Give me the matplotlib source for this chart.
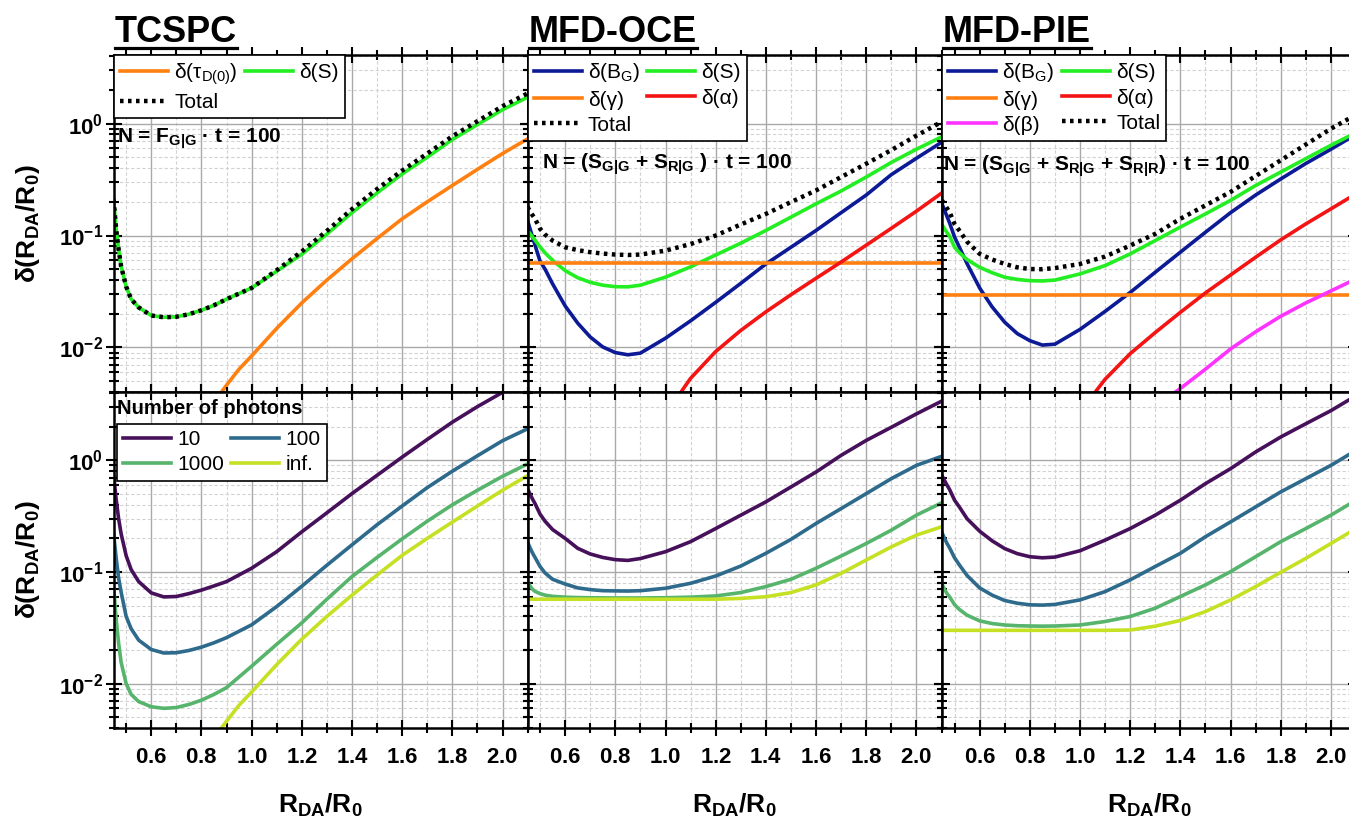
import matplotlib
matplotlib.use("Agg")
import matplotlib.pyplot as plt
from matplotlib.ticker import MultipleLocator, LogLocator, FuncFormatter, NullFormatter
from matplotlib.lines import Line2D
import numpy as np

plt.rcParams['font.family'] = ['Liberation Sans', 'DejaVu Sans']
plt.rcParams['mathtext.fontset'] = 'custom'
plt.rcParams['mathtext.rm'] = 'Liberation Sans'
plt.rcParams['mathtext.bf'] = 'Liberation Sans:bold'
plt.rcParams['mathtext.it'] = 'Liberation Sans:italic'

# ---------------- data ----------------
r = [0.45, 0.46, 0.47, 0.48, 0.50, 0.52, 0.55, 0.60, 0.65, 0.70, 0.75, 0.80, 0.85,
     0.90, 1.00, 1.10, 1.20, 1.30, 1.40, 1.50, 1.60, 1.70, 1.80, 1.90, 2.00, 2.10]

# TCSPC, N = 100
tcspc_S = [0.21, 0.115, 0.075, 0.053, 0.035, 0.027, 0.0228, 0.0193, 0.0186, 0.0188, 0.0198, 0.0215, 0.0238,
           0.027, 0.034, 0.048, 0.068, 0.103, 0.16, 0.24, 0.355, 0.50, 0.72, 0.98, 1.33, 1.72]
tcspc_total = [0.21, 0.115, 0.075, 0.053, 0.035, 0.027, 0.0228, 0.0193, 0.0186, 0.0188, 0.0198, 0.0215, 0.0238,
               0.027, 0.034, 0.049, 0.072, 0.11, 0.172, 0.26, 0.38, 0.54, 0.77, 1.05, 1.43, 1.86]
r_tau = [0.88, 0.90, 0.95, 1.00, 1.10, 1.20, 1.30, 1.40, 1.50, 1.60, 1.70, 1.80, 1.90, 2.00, 2.10]
tcspc_tau = [0.0040, 0.0046, 0.0064, 0.0084, 0.0148, 0.025, 0.040, 0.062, 0.094, 0.141, 0.20, 0.28, 0.39, 0.54, 0.73]

# TCSPC, number of photons
tcspc_n10 = [0.75, 0.45, 0.30, 0.22, 0.14, 0.105, 0.082, 0.065, 0.0598, 0.0603, 0.064, 0.0688, 0.075,
             0.082, 0.108, 0.152, 0.229, 0.339, 0.504, 0.735, 1.07, 1.54, 2.2, 3.03, 4.07, 5.4]
tcspc_n100 = [0.22, 0.135, 0.088, 0.066, 0.040, 0.031, 0.0245, 0.0202, 0.0188, 0.0189, 0.0198, 0.0212, 0.0232,
              0.0258, 0.0336, 0.049, 0.0745, 0.115, 0.175, 0.265, 0.39, 0.57, 0.80, 1.10, 1.50, 1.92]
tcspc_n1000 = [0.075, 0.038, 0.023, 0.0155, 0.0100, 0.0080, 0.0069, 0.0062, 0.0060, 0.0061, 0.0065, 0.0071, 0.0080,
               0.0092, 0.0143, 0.0225, 0.035, 0.057, 0.091, 0.135, 0.198, 0.285, 0.40, 0.54, 0.72, 0.93]
tcspc_ninf = tcspc_tau

# MFD-OCE, N = 100
oce_Bg = [0.136, 0.115, 0.097, 0.082, 0.059, 0.050, 0.037, 0.0235, 0.0165, 0.0124, 0.0101, 0.0090, 0.0086,
          0.0089, 0.0121, 0.0173, 0.0253, 0.0374, 0.0557, 0.0786, 0.111, 0.16, 0.23, 0.35, 0.49, 0.68]
oce_S = [0.111, 0.104, 0.097, 0.091, 0.079, 0.070, 0.060, 0.0486, 0.042, 0.0382, 0.036, 0.0349, 0.0348,
         0.036, 0.0425, 0.0525, 0.067, 0.0854, 0.111, 0.146, 0.192, 0.25, 0.333, 0.45, 0.59, 0.76]
oce_total = [0.18, 0.165, 0.152, 0.141, 0.115, 0.102, 0.090, 0.0786, 0.074, 0.071, 0.069, 0.0676, 0.067,
             0.0676, 0.0733, 0.0839, 0.100, 0.1255, 0.156, 0.199, 0.253, 0.333, 0.438, 0.58, 0.78, 1.035]
r_flat = [0.45, 2.10]
oce_gamma = [0.057, 0.057]
r_oce_alpha = [1.062, 1.10, 1.20, 1.30, 1.40, 1.50, 1.60, 1.70, 1.80, 1.90, 2.00, 2.10]
oce_alpha = [0.004, 0.0053, 0.0092, 0.0142, 0.0208, 0.0296, 0.0415, 0.058, 0.082, 0.116, 0.165, 0.239]

# MFD-OCE, number of photons
oce_n10 = [0.557, 0.50, 0.45, 0.41, 0.33, 0.285, 0.24, 0.20, 0.163, 0.145, 0.135, 0.129, 0.127,
           0.132, 0.152, 0.187, 0.245, 0.323, 0.425, 0.578, 0.787, 1.11, 1.51, 1.98, 2.61, 3.39]
oce_n100 = [0.186, 0.165, 0.148, 0.135, 0.112, 0.098, 0.086, 0.078, 0.072, 0.0695, 0.068, 0.0677, 0.0675,
            0.068, 0.0715, 0.0792, 0.092, 0.113, 0.147, 0.196, 0.272, 0.37, 0.504, 0.686, 0.902, 1.086]
oce_n1000 = [0.0814, 0.075, 0.070, 0.067, 0.064, 0.062, 0.0605, 0.0595, 0.059, 0.0588, 0.0586, 0.0585, 0.0585,
             0.0585, 0.0588, 0.0595, 0.061, 0.0654, 0.074, 0.086, 0.108, 0.139, 0.18, 0.237, 0.323, 0.416]
oce_ninf = [0.057, 0.057, 0.057, 0.057, 0.057, 0.057, 0.057, 0.057, 0.057, 0.057, 0.057, 0.057, 0.057,
            0.057, 0.057, 0.057, 0.057, 0.058, 0.060, 0.0654, 0.0766, 0.0973, 0.128, 0.168, 0.214, 0.254]

# MFD-PIE, N = 100
pie_Bg = [0.192, 0.168, 0.148, 0.13, 0.097, 0.078, 0.056, 0.034, 0.023, 0.0168, 0.0133, 0.0115, 0.0105,
          0.0107, 0.0145, 0.021, 0.031, 0.047, 0.071, 0.107, 0.16, 0.23, 0.32, 0.44, 0.59, 0.80]
pie_S = [0.125, 0.115, 0.106, 0.099, 0.0786, 0.070, 0.061, 0.052, 0.0465, 0.0424, 0.0405, 0.0395, 0.0393,
         0.040, 0.0454, 0.0539, 0.0685, 0.0902, 0.119, 0.156, 0.206, 0.28, 0.369, 0.486, 0.64, 0.83]
pie_total = [0.206, 0.19, 0.175, 0.162, 0.127, 0.11, 0.088, 0.0686, 0.061, 0.0557, 0.052, 0.0502, 0.050,
             0.0512, 0.0557, 0.0649, 0.0814, 0.1035, 0.141, 0.186, 0.245, 0.34, 0.47, 0.65, 0.90, 1.2]
pie_gamma = [0.0296, 0.0296]
r_pie_alpha = [1.061, 1.10, 1.20, 1.30, 1.40, 1.50, 1.60, 1.70, 1.80, 1.90, 2.00, 2.10]
pie_alpha = [0.004, 0.0052, 0.0088, 0.0136, 0.0206, 0.0307, 0.0444, 0.064, 0.0915, 0.127, 0.173, 0.236]
r_pie_beta = [1.381, 1.40, 1.50, 1.60, 1.70, 1.80, 1.90, 2.00, 2.10]
pie_beta = [0.004, 0.0043, 0.0064, 0.0097, 0.0138, 0.019, 0.025, 0.032, 0.041]

# MFD-PIE, number of photons
pie_n10 = [0.73, 0.66, 0.60, 0.55, 0.44, 0.38, 0.30, 0.232, 0.19, 0.162, 0.146, 0.137, 0.134,
           0.136, 0.155, 0.193, 0.245, 0.323, 0.44, 0.619, 0.843, 1.19, 1.62, 2.13, 2.79, 3.8]
pie_n100 = [0.225, 0.20, 0.18, 0.165, 0.134, 0.115, 0.093, 0.072, 0.062, 0.0555, 0.0525, 0.0508, 0.0505,
            0.0512, 0.0562, 0.0667, 0.085, 0.112, 0.147, 0.207, 0.281, 0.383, 0.522, 0.686, 0.902, 1.23]
pie_n1000 = [0.078, 0.070, 0.064, 0.060, 0.051, 0.046, 0.041, 0.0365, 0.0345, 0.0335, 0.033, 0.0328, 0.0327,
             0.0328, 0.0335, 0.036, 0.0399, 0.0474, 0.0603, 0.0766, 0.1007, 0.137, 0.187, 0.245, 0.323, 0.44]
pie_ninf = [0.030, 0.030, 0.030, 0.030, 0.030, 0.030, 0.030, 0.030, 0.030, 0.030, 0.030, 0.030, 0.030,
            0.030, 0.030, 0.030, 0.0302, 0.0327, 0.0368, 0.0442, 0.0562, 0.074, 0.0994, 0.1325, 0.18, 0.245]

titles = ["TCSPC", "MFD-OCE", "MFD-PIE"]
photon_labels = ["10", "100", "1000", "inf."]

# ---------------- style ----------------
C_OR = '#ff8010'
C_GR = '#22ee22'
C_BL = '#0c1a96'
C_RD = '#f41414'
C_MG = '#ff33ff'
C_N = ['#46105a', '#2d6a8c', '#56b46c', '#c6e024']
LW = 2.6
DOT = (0, (0.8, 1.0))

W, H = 1349, 822
fig = plt.figure(figsize=(W / 100, H / 100), dpi=100)

lefts = [113.6, 527.5, 942.0]
pw = 414.0
rows = [(55.0, 392.0), (392.0, 728.0)]

axes = {}
for i in range(2):
    for j in range(3):
        top, bot = rows[i]
        ax = fig.add_axes([lefts[j] / W, 1 - bot / H, pw / W, (bot - top) / H])
        axes[(i, j)] = ax

def fmt_x(v, pos):
    return r'$\mathbf{%.1f}$' % v

def fmt_y(v, pos):
    e = int(round(np.log10(v)))
    return r'$\mathbf{10^{%d}}$' % e

for (i, j), ax in axes.items():
    ax.set_yscale('log')
    ax.set_xlim(0.45, 2.1)
    ax.set_ylim(0.004, 4.1)
    ax.xaxis.set_major_locator(MultipleLocator(0.2))
    ax.xaxis.set_minor_locator(MultipleLocator(0.1))
    ax.yaxis.set_major_locator(LogLocator(base=10))
    ax.yaxis.set_minor_locator(LogLocator(base=10, subs=np.arange(2, 10)))
    ax.yaxis.set_minor_formatter(NullFormatter())
    ax.xaxis.set_major_formatter(FuncFormatter(fmt_x))
    ax.yaxis.set_major_formatter(FuncFormatter(fmt_y))
    ax.grid(which='major', color='#a9a9a9', lw=1.0, ls='-')
    ax.grid(which='minor', color='#d2d2d2', lw=0.8, ls=(0, (3, 2)))
    ax.set_axisbelow(True)
    for s in ax.spines.values():
        s.set_linewidth(1.8)
        s.set_zorder(5)
    ax.tick_params(which='both', direction='inout', top=True, right=True,
                   labelsize=16, width=1.5, colors='black')
    ax.tick_params(which='major', length=11)
    ax.tick_params(which='minor', length=7)
    ax.tick_params(axis='x', pad=8)
    ax.tick_params(axis='y', pad=2)
    if j != 0:
        ax.tick_params(labelleft=False)
    if i == 0:
        ax.tick_params(labelbottom=False)

ylab = r'δ(R$_{\mathbf{DA}}$/R$_{\mathbf{0}}$)'
xlab = r'R$_{\mathbf{DA}}$/R$_{\mathbf{0}}$'
for i in range(2):
    ax = axes[(i, 0)]
    ax.set_ylabel(ylab, fontsize=19, fontweight='bold')
    ax.yaxis.set_label_coords(-0.172, 0.5)
for j in range(3):
    ax = axes[(1, j)]
    ax.set_xlabel(xlab, fontsize=19, fontweight='bold')
    ax.xaxis.set_label_coords(0.5, -0.19)

legkw = dict(loc='upper left', bbox_to_anchor=(0, 1), borderaxespad=0, fancybox=False,
             framealpha=1, edgecolor='black', fontsize=15, handlelength=2.3,
             handletextpad=0.3, columnspacing=0.35, labelspacing=0.3, borderpad=0.3, ncol=2)

def style_legend(leg):
    leg.get_frame().set_linewidth(1.2)
    leg.set_zorder(10)

# --- top TCSPC
ax = axes[(0, 0)]
h_tau, = ax.plot(r_tau, tcspc_tau, color=C_OR, lw=LW, label=r'δ(τ$_{\mathregular{D(0)}}$)')
h_S, = ax.plot(r, tcspc_S, color=C_GR, lw=LW, label='δ(S)')
h_T, = ax.plot(r, tcspc_total, color='black', lw=3.2, ls=DOT, label='Total')
style_legend(ax.legend(handles=[h_tau, h_T, h_S], **legkw))
ax.text(0.008, 0.752, r'N = F$_{\mathbf{G|G}}$ · t = 100', transform=ax.transAxes,
        fontsize=15, fontweight='bold', va='center', ha='left', zorder=11)

# --- top OCE
ax = axes[(0, 1)]
h_B, = ax.plot(r, oce_Bg, color=C_BL, lw=LW, label=r'δ(B$_{\mathregular{G}}$)')
h_S, = ax.plot(r, oce_S, color=C_GR, lw=LW, label='δ(S)')
h_g, = ax.plot(r_flat, oce_gamma, color=C_OR, lw=LW, label='δ(γ)')
h_a, = ax.plot(r_oce_alpha, oce_alpha, color=C_RD, lw=LW, label='δ(α)')
h_T, = ax.plot(r, oce_total, color='black', lw=3.2, ls=DOT, label='Total')
style_legend(ax.legend(handles=[h_B, h_g, h_T, h_S, h_a], **legkw))
ax.text(0.035, 0.675, r'N = (S$_{\mathbf{G|G}}$ + S$_{\mathbf{R|G}}$ ) · t = 100', transform=ax.transAxes,
        fontsize=15, fontweight='bold', va='center', ha='left', zorder=11)

# --- top PIE
ax = axes[(0, 2)]
h_B, = ax.plot(r, pie_Bg, color=C_BL, lw=LW, label=r'δ(B$_{\mathregular{G}}$)')
h_S, = ax.plot(r, pie_S, color=C_GR, lw=LW, label='δ(S)')
h_g, = ax.plot(r_flat, pie_gamma, color=C_OR, lw=LW, label='δ(γ)')
h_a, = ax.plot(r_pie_alpha, pie_alpha, color=C_RD, lw=LW, label='δ(α)')
h_b, = ax.plot(r_pie_beta, pie_beta, color=C_MG, lw=LW, label='δ(β)')
h_T, = ax.plot(r, pie_total, color='black', lw=3.2, ls=DOT, label='Total')
style_legend(ax.legend(handles=[h_B, h_g, h_b, h_S, h_a, h_T], **legkw))
ax.text(0.003, 0.67, r'N = (S$_{\mathbf{G|G}}$ + S$_{\mathbf{R|G}}$ + S$_{\mathbf{R|R}}$) · t = 100',
        transform=ax.transAxes, fontsize=15, fontweight='bold', va='center', ha='left', zorder=11)

# --- bottom row
bottom_sets = [
    (r, tcspc_n10, r, tcspc_n100, r, tcspc_n1000, r_tau, tcspc_ninf),
    (r, oce_n10, r, oce_n100, r, oce_n1000, r, oce_ninf),
    (r, pie_n10, r, pie_n100, r, pie_n1000, r, pie_ninf),
]
for j in range(3):
    ax = axes[(1, j)]
    d = bottom_sets[j]
    hs = []
    for k in range(4):
        h, = ax.plot(d[2 * k], d[2 * k + 1], color=C_N[k], lw=LW, label=photon_labels[k])
        hs.append(h)
    if j == 0:
        kw = dict(legkw)
        kw['bbox_to_anchor'] = (0.008, 0.905)
        style_legend(ax.legend(handles=[hs[0], hs[2], hs[1], hs[3]], **kw))
        ax.text(0.008, 0.952, 'Number of photons', transform=ax.transAxes, fontsize=14.5,
                fontweight='bold', va='center', ha='left', zorder=11)

# titles with underline
title_objs = []
for j, t in enumerate(titles):
    tx = fig.text((lefts[j] + 1) / W, 1 - 42 / H, t, fontsize=26, fontweight='bold',
                  ha='left', va='baseline')
    title_objs.append(tx)
fig.canvas.draw()
for tx in title_objs:
    bb = tx.get_window_extent()
    yline = 1 - 48.5 / H
    fig.add_artist(Line2D([bb.x0 / W, bb.x1 / W], [yline, yline], transform=fig.transFigure,
                          color='black', lw=2.3))

fig.savefig('out.png', dpi=100)
